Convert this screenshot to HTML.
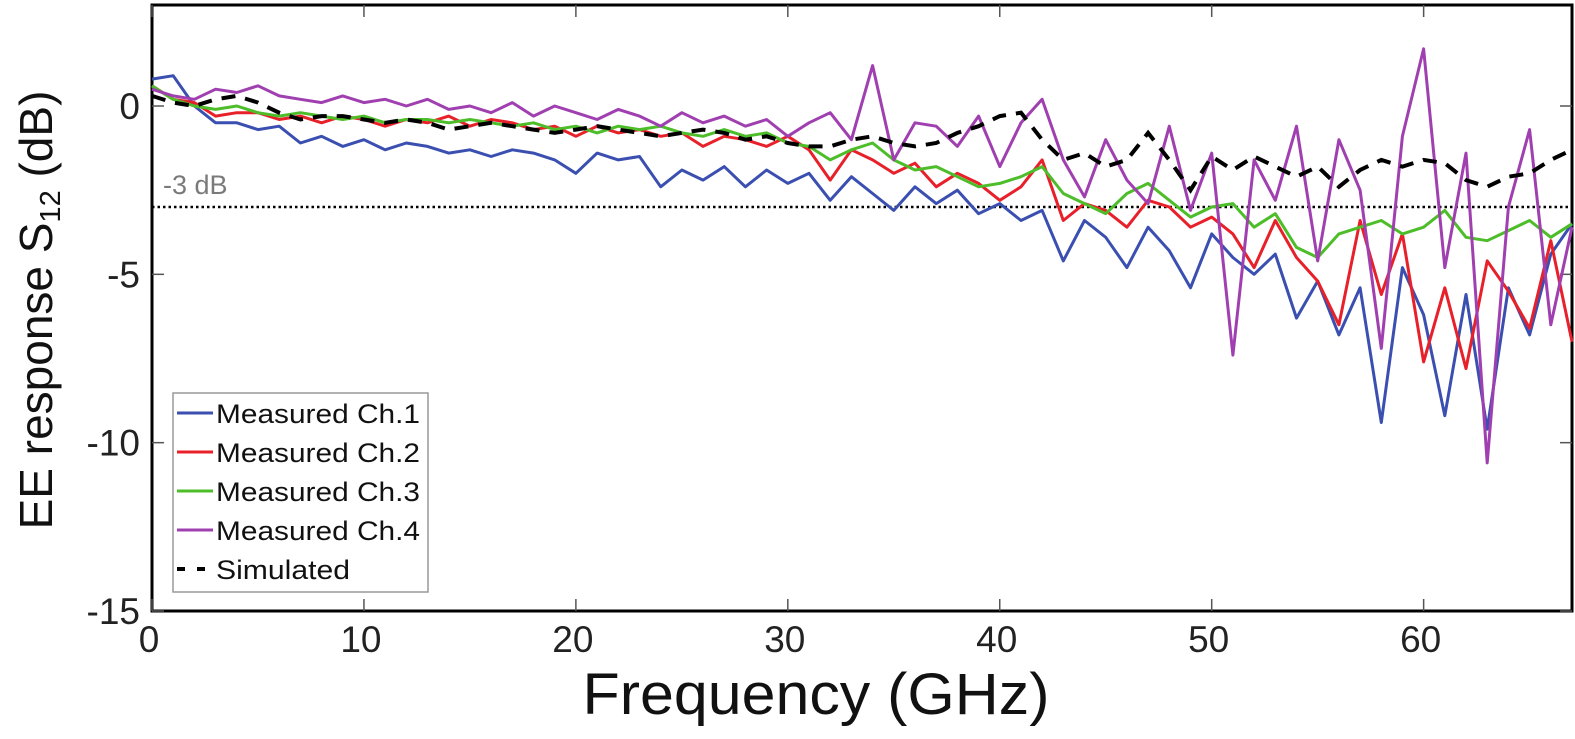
<!DOCTYPE html>
<html><head><meta charset="utf-8"><style>
html,body{margin:0;padding:0;background:#fff;}
svg{display:block;font-family:"Liberation Sans",Arial,sans-serif;}
</style></head><body>
<svg id="chart" width="1575" height="739" viewBox="0 0 1575 739">
<g id="plot"></g>
</svg>
<script>
const freqs = [0,1,2,3,4,5,6,7,8,9,10,11,12,13,14,15,16,17,18,19,20,21,22,23,24,25,26,27,28,29,30,31,32,33,34,35,36,37,38,39,40,41,42,43,44,45,46,47,48,49,50,51,52,53,54,55,56,57,58,59,60,61,62,63,64,65,66,67];
const ch1 = [0.8,0.9,0.0,-0.5,-0.5,-0.7,-0.6,-1.1,-0.9,-1.2,-1.0,-1.3,-1.1,-1.2,-1.4,-1.3,-1.5,-1.3,-1.4,-1.6,-2.0,-1.4,-1.6,-1.5,-2.4,-1.9,-2.2,-1.8,-2.4,-1.9,-2.3,-2.0,-2.8,-2.1,-2.6,-3.1,-2.4,-2.9,-2.5,-3.2,-2.9,-3.4,-3.1,-4.6,-3.4,-3.9,-4.8,-3.6,-4.3,-5.4,-3.8,-4.5,-5.0,-4.4,-6.3,-5.2,-6.8,-5.4,-9.4,-4.8,-6.2,-9.2,-5.6,-9.6,-5.4,-6.8,-4.4,-3.5];
const ch2 = [0.6,0.2,0.1,-0.3,-0.2,-0.2,-0.4,-0.3,-0.5,-0.3,-0.4,-0.6,-0.4,-0.5,-0.3,-0.6,-0.4,-0.5,-0.7,-0.6,-0.9,-0.6,-0.8,-0.7,-0.9,-0.8,-1.2,-0.9,-1.0,-1.2,-0.9,-1.3,-2.2,-1.3,-1.6,-2.0,-1.7,-2.4,-2.0,-2.3,-2.8,-2.4,-1.6,-3.4,-2.9,-3.1,-3.6,-2.8,-3.0,-3.6,-3.3,-3.8,-4.8,-3.4,-4.5,-5.2,-6.5,-3.4,-5.6,-3.8,-7.6,-5.4,-7.8,-4.6,-5.5,-6.6,-4.0,-7.0];
const ch3 = [0.6,0.2,0.0,-0.1,0.0,-0.2,-0.3,-0.2,-0.3,-0.4,-0.3,-0.5,-0.4,-0.4,-0.5,-0.4,-0.5,-0.6,-0.5,-0.7,-0.6,-0.8,-0.6,-0.7,-0.6,-0.8,-0.9,-0.7,-0.9,-0.8,-1.1,-1.2,-1.6,-1.3,-1.1,-1.6,-1.9,-1.8,-2.1,-2.4,-2.3,-2.1,-1.8,-2.6,-2.9,-3.2,-2.6,-2.3,-2.8,-3.3,-3.0,-2.9,-3.6,-3.2,-4.2,-4.5,-3.8,-3.6,-3.4,-3.8,-3.6,-3.1,-3.9,-4.0,-3.7,-3.4,-3.9,-3.5];
const ch4 = [0.5,0.3,0.2,0.5,0.4,0.6,0.3,0.2,0.1,0.3,0.1,0.2,0.0,0.2,-0.1,0.0,-0.2,0.1,-0.3,0.0,-0.2,-0.4,-0.1,-0.3,-0.6,-0.2,-0.5,-0.3,-0.6,-0.4,-0.9,-0.5,-0.2,-1.0,1.2,-1.6,-0.5,-0.6,-1.2,-0.3,-1.8,-0.5,0.2,-1.6,-2.7,-1.0,-2.2,-2.9,-0.6,-3.1,-1.4,-7.4,-1.6,-2.8,-0.6,-4.6,-1.0,-2.5,-7.2,-0.9,1.7,-4.8,-1.4,-10.6,-3.0,-0.7,-6.5,-3.6];
const simulated = [0.3,0.1,0.0,0.2,0.3,0.1,-0.2,-0.4,-0.3,-0.3,-0.4,-0.5,-0.4,-0.5,-0.7,-0.6,-0.5,-0.6,-0.7,-0.8,-0.7,-0.6,-0.7,-0.8,-0.9,-0.8,-0.7,-0.8,-1.0,-0.9,-1.1,-1.2,-1.2,-1.0,-0.9,-1.1,-1.2,-1.1,-0.8,-0.6,-0.3,-0.2,-1.0,-1.6,-1.4,-1.8,-1.6,-0.8,-1.6,-2.5,-1.5,-1.9,-1.5,-1.8,-2.1,-1.8,-2.4,-1.9,-1.6,-1.8,-1.6,-1.7,-2.2,-2.4,-2.1,-2.0,-1.6,-1.3];
const xTicks = [0,10,20,30,40,50,60];
const yTicks = [0,-5,-10,-15];
const seriesNames = ["Measured Ch.1","Measured Ch.2","Measured Ch.3","Measured Ch.4","Simulated"];

const X0=152, X1=1572, Y0=5, Y1=611;
const xmin=0,xmax=67,ymin=-15,ymax=3;
const sx=v=>X0+(v-xmin)/(xmax-xmin)*(X1-X0);
const sy=v=>Y1-(v-ymin)/(ymax-ymin)*(Y1-Y0);
const NS="http://www.w3.org/2000/svg";
const g=document.getElementById('plot');
function mk(tag,attrs,parent){const e=document.createElementNS(NS,tag);for(const k in attrs)e.setAttribute(k,attrs[k]);(parent||g).appendChild(e);return e;}

const frame=mk('rect',{x:X0,y:Y0,width:X1-X0,height:Y1-Y0,fill:'none',stroke:'#000','stroke-width':3});



xTicks.forEach(t=>{
  const x=sx(t);
  const a=mk('line',{x1:x,y1:Y1,x2:x,y2:Y1-12,stroke:'#555','stroke-width':1.5});
  
  
  const b=mk('line',{x1:x,y1:Y0,x2:x,y2:Y0+12,stroke:'#555','stroke-width':1.5});
  
  
  const l=mk('text',{x:x-3,y:652,'font-size':37,'text-anchor':'middle',fill:'#222'});
  l.textContent=t;
  
  
});
yTicks.forEach(t=>{
  const y=sy(t);
  const a=mk('line',{x1:X0,y1:y,x2:X0+12,y2:y,stroke:'#555','stroke-width':1.5});
  
  
  const b=mk('line',{x1:X1,y1:y,x2:X1-12,y2:y,stroke:'#555','stroke-width':1.5});
  
  
  const l=mk('text',{x:140,y:y+13,'font-size':37,'text-anchor':'end',fill:'#222'});
  l.textContent=t;
  
  
});

const ref=mk('line',{x1:X0,y1:sy(-3),x2:X1,y2:sy(-3),stroke:'#000','stroke-width':2.5,'stroke-dasharray':'2.5 3'});


const refl=mk('text',{x:163,y:194,'font-size':27,fill:'#7a7a7a'});
refl.textContent='-3 dB';



function path(vals){return vals.map((v,i)=>(i?'L':'M')+sx(freqs[i]).toFixed(1)+' '+sy(v).toFixed(1)).join(' ');}
const series=[[ch1,'#3a4fb0','series-ch1'],[ch2,'#e8202a','series-ch2'],[ch3,'#4dbd2a','series-ch3'],[ch4,'#a040b0','series-ch4']];
series.forEach(s=>{
  const p=mk('path',{d:path(s[0]),fill:'none',stroke:s[1],'stroke-width':3,'stroke-linejoin':'round'});
  
  
});
const sim=mk('path',{d:path(simulated),fill:'none',stroke:'#000','stroke-width':4,'stroke-dasharray':'14 10'});



const lg=mk('g',{});


mk('rect',{x:173,y:393,width:255,height:199,fill:'#fff',stroke:'#999','stroke-width':1.5},lg);
const lcols=['#3a4fb0','#e8202a','#4dbd2a','#a040b0','#000'];
seriesNames.forEach((n,i)=>{
  const y=413+i*39;
  const ln=mk('line',{x1:177,y1:y,x2:213,y2:y,stroke:lcols[i],'stroke-width':i==4?4:3,'stroke-dasharray':i==4?'8 12':'none'},lg);
  
  
  const t=mk('text',{x:216,y:y+10,'font-size':27,fill:'#111',textLength:i==4?134:204,lengthAdjust:'spacingAndGlyphs'},lg);
  t.textContent=n;
  
  
});

const xt=mk('text',{x:816,y:714,'font-size':58,'text-anchor':'middle',fill:'#111',textLength:467,lengthAdjust:'spacingAndGlyphs'});
xt.textContent='Frequency (GHz)';


const yt=mk('text',{x:0,y:0,'font-size':46,'text-anchor':'middle',fill:'#111',transform:'translate(52,310) rotate(-90)'});
yt.innerHTML='EE response S<tspan font-size="29" dy="8">12</tspan><tspan dy="-8"> (dB)</tspan>';


</script>
</body></html>
